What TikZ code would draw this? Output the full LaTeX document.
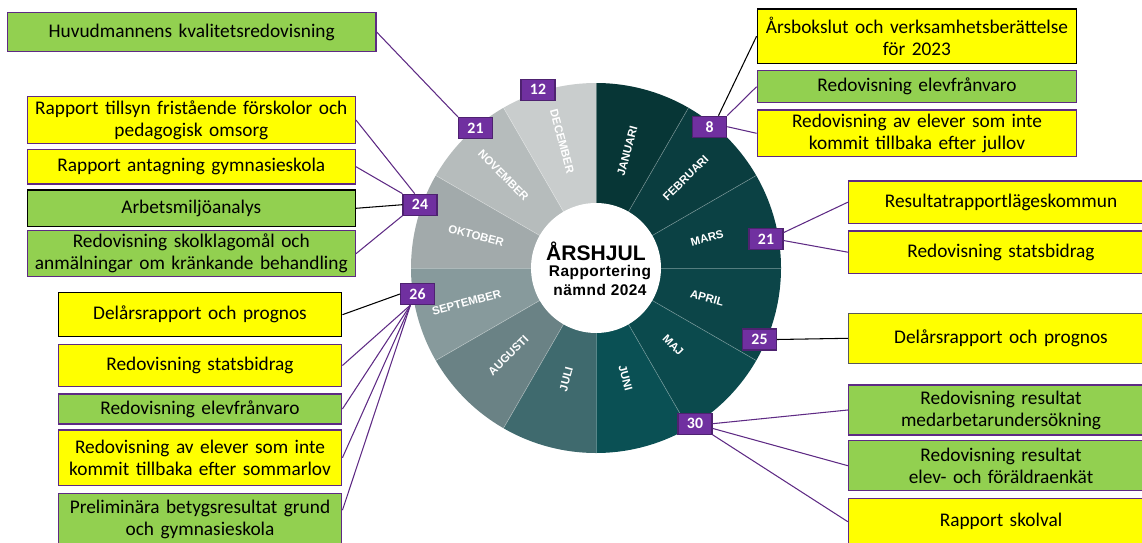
\documentclass[tikz,border=0pt]{standalone}
\usepackage{fontspec}
\setmainfont{Carlito}[WordSpace=0.85]
\newfontfamily\wheelfont{Liberation Sans}
\newfontfamily\hubfont{Liberation Sans}[LetterSpace=3]
\usetikzlibrary{calc}

\definecolor{boxyellow}{HTML}{FFFF00}
\definecolor{boxgreen}{HTML}{92D050}
\definecolor{badgepurple}{HTML}{7030A0}
\definecolor{linepurple}{HTML}{5E2A84}
\definecolor{jan}{HTML}{073636}
\definecolor{feb}{HTML}{0A3D3F}
\definecolor{mar}{HTML}{0B4144}
\definecolor{apr}{HTML}{0C4548}
\definecolor{maj}{HTML}{0B4A4D}
\definecolor{jun}{HTML}{0A5054}
\definecolor{jul}{HTML}{3F6A6E}
\definecolor{aug}{HTML}{6A8285}
\definecolor{sep}{HTML}{879A9C}
\definecolor{okt}{HTML}{A2AAAB}
\definecolor{nov}{HTML}{B6BCBC}
\definecolor{dec}{HTML}{C9CDCD}

\tikzset{
    yellowbox/.style={draw=linepurple, line width=0.8pt, fill=boxyellow,
        inner sep=0pt, align=center, font={\fontsize{11}{12.5}\selectfont}},
    greenbox/.style={yellowbox, fill=boxgreen},
    badge/.style={draw=badgepurple!70!black, line width=0.6pt, fill=badgepurple,
        text=white, inner sep=0pt, minimum width=0.68cm, minimum height=0.42cm,
        font={\bfseries\fontsize{9}{9}\selectfont}},
    link/.style={draw=linepurple, line width=0.6pt},
    blacklink/.style={draw=black, line width=0.6pt},
    monthlabel/.style={text=white, inner sep=0pt,
        font={\wheelfont\bfseries\fontsize{6.5}{7}\selectfont}}
}

\begin{document}
\begin{tikzpicture}[x=0.02cm, y=0.02cm]
    \useasboundingbox (0,0) rectangle (1142,542);

    % wheel
    \coordinate (hub) at (596,274);
    \foreach \mon/\col/\rad [count=\i] in {JANUARI/jan/121, FEBRUARI/feb/127,
        MARS/mar/115, APRIL/apr/115, MAJ/maj/109, JUNI/jun/114, JULI/jul/115,
        AUGUSTI/aug/124, SEPTEMBER/sep/134, OKTOBER/okt/124, NOVEMBER/nov/131,
        DECEMBER/dec/131}{
        \pgfmathsetmacro{\midang}{105-30*\i}
        \pgfmathsetmacro{\labrot}{\i<7 ? \midang : \midang+180}
        \fill[\col] (hub) -- ++(\midang+15:185)
            arc[start angle=\midang+15, end angle=\midang-15, radius=185] -- cycle;
        \node[monthlabel, rotate=\labrot] at ([shift={(\midang:\rad)}]hub) {\mon};
    }
    \foreach \a in {0,30,...,330}
        \draw[white, opacity=0.3, line width=0.4pt] (hub) -- ++(\a:185);
    \node[circle, fill=white, minimum size=2.6cm, inner sep=0pt] (core) at (hub) {};
    \node[font={\wheelfont\bfseries\fontsize{12}{13}\selectfont}] (title) at (596,290.3) {ÅRSHJUL};
    \node[font={\hubfont\bfseries\fontsize{8.8}{9}\selectfont}] (sub1) at (600,269.3) {Rapportering};
    \node[font={\hubfont\bfseries\fontsize{8.8}{9}\selectfont}] (sub2) at (600,252) {nämnd 2024};

    % left boxes
    \node[greenbox, text width=7.37cm, minimum height=0.79cm] (huvud) at (191.7,510) {Huvudmannens kvalitetsredovisning};
    \node[yellowbox, text width=6.56cm, minimum height=0.93cm] (tillsyn) at (191.3,422) {Rapport tillsyn fristående förskolor och\\ pedagogisk omsorg};
    \node[yellowbox, text width=6.56cm, minimum height=0.69cm] (antagning) at (191.3,375.3) {Rapport antagning gymnasieskola};
    \node[greenbox, draw=black, text width=6.56cm, minimum height=0.73cm] (arbetsmiljo) at (191.3,333.7) {Arbetsmiljöanalys};
    \node[greenbox, text width=6.56cm, minimum height=0.92cm] (klagomal) at (191.3,288.3) {Redovisning skolklagomål och\\ anmälningar om kränkande behandling};
    \node[yellowbox, draw=black, text width=5.67cm, minimum height=0.88cm] (delarsL) at (200,227.3) {Delårsrapport och prognos};
    \node[yellowbox, text width=5.67cm, minimum height=0.85cm] (statsL) at (200,176.5) {Redovisning statsbidrag};
    \node[greenbox, text width=5.67cm, minimum height=0.60cm] (franvaroL) at (200,133) {Redovisning elevfrånvaro};
    \node[yellowbox, text width=5.67cm, minimum height=1.11cm] (sommarlov) at (200,84.2) {Redovisning av elever som inte\\ kommit tillbaka efter sommarlov};
    \node[greenbox, text width=5.67cm, minimum height=1.03cm] (prelim) at (200,23) {Preliminära betygsresultat grund\\ och gymnasieskola};

    % right boxes
    \node[yellowbox, draw=black, text width=6.39cm, minimum height=1.09cm] (arsbokslut) at (917,505.8) {Årsbokslut och verksamhetsberättelse\\ för 2023};
    \node[greenbox, text width=6.39cm, minimum height=0.64cm] (franvaroR) at (917,455.3) {Redovisning elevfrånvaro};
    \node[yellowbox, text width=6.39cm, minimum height=0.93cm] (jullov) at (917,408.7) {Redovisning av elever som inte\\ kommit tillbaka efter jullov};
    \node[yellowbox, text width=6.1cm, minimum height=0.85cm] (resultat) at (1001,339.8) {Resultatrapportlägeskommun};
    \node[yellowbox, text width=6.1cm, minimum height=0.85cm] (statsR) at (1001,289.8) {Redovisning statsbidrag};
    \node[yellowbox, draw=black!65, text width=6.1cm, minimum height=1.0cm] (delarsR) at (1001,203.7) {Delårsrapport och prognos};
    \node[greenbox, text width=6.1cm, minimum height=1.0cm] (medarb) at (1001,132) {Redovisning resultat\\ medarbetarundersökning};
    \node[greenbox, text width=6.1cm, minimum height=1.0cm] (enkat) at (1001,76.3) {Redovisning resultat\\ elev- och föräldraenkät};
    \node[yellowbox, text width=6.1cm, minimum height=0.93cm] (skolval) at (1001,20.3) {Rapport skolval};

    % date badges
    \node[badge] (b12) at (538,452.3) {12};
    \node[badge] (b21n) at (475.5,414) {21};
    \node[badge] (b24) at (420,337.3) {24};
    \node[badge] (b26) at (417.5,248) {26};
    \node[badge] (b8) at (709.7,415.3) {8};
    \node[badge] (b21m) at (766,303) {21};
    \node[badge] (b25) at (759.5,202.5) {25};
    \node[badge] (b30) at (695,118.3) {30};

    % connectors
    \draw[link] (huvud.east) -- (b21n.north west);
    \draw[link] (tillsyn.east) -- ($(b24.north)!0.3!(b24.north west)$);
    \draw[link] (antagning.east) -- (b24.north west);
    \draw[blacklink] (arbetsmiljo.east) -- (b24.west);
    \draw[link] (klagomal.east) -- (b24.south west);
    \coordinate (b26foot) at ($(b26.south west)!0.3!(b26.south east)$);
    \draw[blacklink] (delarsL.east) -- (b26.west);
    \foreach \tgt in {statsL, franvaroL, sommarlov}
        \draw[link] (\tgt.east) -- (b26foot);
    \draw[link] ([yshift=5pt]prelim.east) -- (b26foot);
    \draw[blacklink] ($(b8.north)!0.5!(b8.north east)$) -- (arsbokslut.west);
    \draw[link] (b8.north east) -- (franvaroR.west);
    \draw[link] (b8.east) -- (jullov.west);
    \draw[link] (b21m.20) -- (resultat.west);
    \draw[link] (b21m.-5) -- (statsR.west);
    \draw[blacklink] (b25.east) -- (delarsR.west);
    \draw[link] (b30.east) -- (medarb.west);
    \draw[link] (b30.-15) -- (enkat.west);
    \draw[link] (b30.south east) -- (skolval.west);
\end{tikzpicture}
\end{document}
